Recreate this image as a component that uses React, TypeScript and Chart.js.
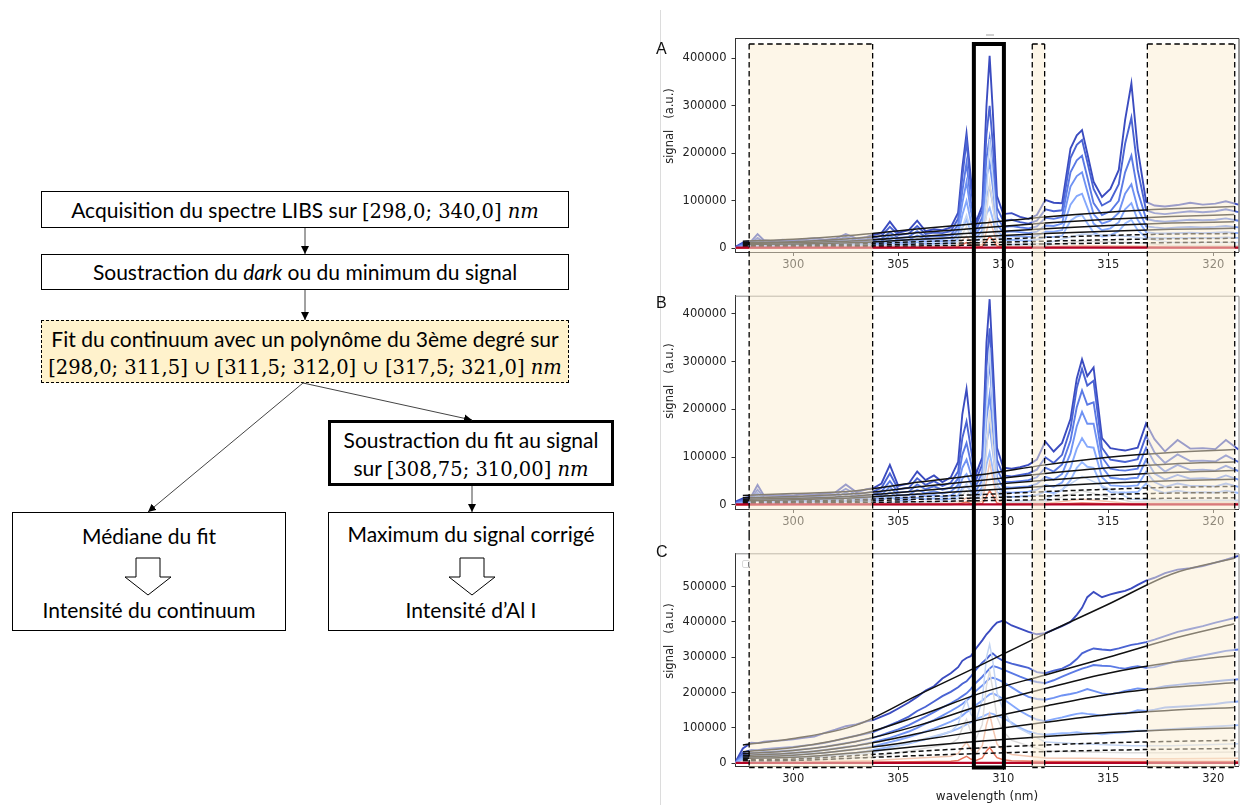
import React, { useEffect, useRef } from "react";
import { Chart, registerables } from "chart.js";

Chart.register(...registerables);

// ---------------- data (signal values in units of 1000 a.u.) ----------------
const WAVELENGTH = [
  297.25, 297.6, 298.0, 298.3, 298.6, 299.0, 299.5, 300.0, 300.5, 301.0,
  301.5, 302.0, 302.5, 303.0, 303.5, 303.8, 304.2, 304.6, 305.0, 305.5,
  305.9, 306.3, 306.7, 307.1, 307.5, 307.85, 308.05, 308.25, 308.45, 308.7,
  309.0, 309.2, 309.35, 309.5, 309.7, 310.0, 310.4, 310.8, 311.2, 311.6,
  312.0, 312.4, 312.8, 313.2, 313.5, 313.75, 314.0, 314.3, 314.7, 315.1,
  315.5, 315.8, 316.1, 316.4, 316.8, 317.2, 317.7, 318.3, 318.9, 319.5,
  320.1, 320.6, 321.2,
];
const PEAK_WAVELENGTH = [
  297.25, 300, 303.8, 307.5, 307.85, 308.05, 308.25, 308.45, 308.7, 309.0,
  309.2, 309.35, 309.5, 309.7, 310.0, 310.4, 312.0, 313.75, 316.1, 318.0, 321.2,
];
const FIT_WAVELENGTH = [297.6, 300, 303, 306, 309, 312, 315, 318, 321];
const BASE_WAVELENGTH = [297.25, 321.2];
const BASE_SIGNAL = [1.2, 1.2];

const X_TICKS = [300, 305, 310, 315, 320];
const X_TICK_LABELS = ["300", "305", "310", "315", "320"];
const Y_TICKS_AB = [0, 100, 200, 300, 400];
const Y_TICK_LABELS_AB = ["0", "100000", "200000", "300000", "400000"];
const Y_TICKS_C = [0, 100, 200, 300, 400, 500];
const Y_TICK_LABELS_C = ["0", "100000", "200000", "300000", "400000", "500000"];

const FIT_WINDOWS = [
  [297.9, 303.78],
  [311.38, 311.97],
  [316.86, 321.02],
];
const AL_WINDOW = [308.6, 310.03];

// Panel A
const A_SPEC_1 = [3, 12, 15, 30, 17, 15, 18, 16, 19, 21, 18, 20, 30, 21, 24, 28, 32, 56, 33, 38, 58, 36, 40, 38, 44, 75, 170, 242, 150, 55, 90, 300, 405, 290, 110, 72, 74, 66, 62, 70, 102, 96, 95, 210, 238, 249, 200, 140, 108, 125, 165, 270, 347, 210, 98, 90, 88, 91, 96, 92, 94, 99, 92];
const A_SPEC_2 = [2, 10, 12, 22, 13, 12, 14, 13, 15, 17, 15, 16, 24, 17, 19, 22, 26, 45, 28, 31, 47, 30, 33, 32, 36, 62, 150, 226, 130, 48, 80, 240, 300, 220, 85, 58, 60, 55, 52, 58, 82, 78, 80, 190, 218, 228, 182, 125, 90, 100, 135, 220, 275, 165, 80, 74, 72, 75, 78, 76, 78, 82, 76];
const A_SPEC_3 = [2, 8, 10, 17, 11, 10, 11, 11, 12, 13, 12, 13, 18, 14, 15, 17, 20, 34, 22, 24, 36, 24, 26, 26, 28, 50, 120, 180, 100, 38, 65, 190, 232, 170, 65, 45, 47, 44, 42, 46, 64, 62, 66, 160, 185, 195, 150, 95, 70, 78, 100, 160, 195, 120, 62, 58, 56, 58, 60, 59, 60, 63, 58];
const A_SPEC_4 = [1, 6, 8, 13, 9, 8, 9, 9, 10, 10, 10, 10, 14, 11, 12, 13, 15, 26, 17, 18, 27, 19, 20, 20, 22, 40, 95, 140, 80, 30, 50, 150, 180, 130, 50, 34, 36, 34, 32, 35, 48, 47, 52, 130, 152, 160, 120, 72, 52, 58, 75, 115, 135, 85, 46, 44, 42, 44, 45, 44, 45, 47, 44];
const A_SPEC_5 = [1, 4, 6, 9, 6, 6, 7, 7, 7, 8, 7, 8, 10, 8, 9, 10, 11, 18, 12, 13, 19, 14, 15, 15, 16, 30, 70, 100, 58, 22, 38, 108, 130, 95, 36, 25, 26, 25, 24, 26, 35, 35, 38, 92, 110, 115, 86, 52, 38, 42, 55, 82, 95, 60, 34, 32, 31, 32, 33, 32, 33, 34, 32];
const A_SPEC_6 = [0, 3, 4, 6, 4, 4, 5, 5, 5, 5, 5, 5, 7, 6, 6, 7, 8, 12, 8, 9, 13, 9, 10, 10, 11, 20, 44, 60, 36, 15, 26, 72, 85, 62, 24, 17, 18, 17, 16, 18, 24, 24, 26, 58, 67, 70, 53, 33, 25, 28, 36, 52, 60, 38, 23, 22, 21, 22, 22, 22, 22, 23, 22];
const A_PEAK_1 = [0, 3, 5, 7, 15, 45, 70, 40, 12, 25, 110, 230, 150, 40, 12, 8, 10, 30, 25, 12, 12];
const A_PEAK_2 = [0, 2, 3, 5, 10, 30, 45, 25, 8, 15, 70, 140, 90, 25, 8, 5, 6, 15, 12, 6, 6];
const A_PEAK_3 = [0, 1, 2, 3, 6, 18, 25, 14, 5, 8, 35, 60, 40, 12, 4, 3, 3, 6, 5, 3, 3];
const A_PEAK_4 = [0, 1, 1, 1, 3, 8, 12, 7, 2, 4, 15, 25, 18, 5, 2, 1, 1, 2, 2, 1, 1];
const A_FIT_1 = [15, 19, 28, 41, 53, 66, 76, 83, 88];
const A_FIT_2 = [12, 14, 21, 33, 43, 53, 61, 67, 71];
const A_FIT_3 = [10, 12, 16, 25, 33, 41, 48, 53, 56];
const A_FIT_4 = [8, 9, 12, 19, 25, 31, 36, 40, 42];
const A_FIT_5 = [6, 7, 9, 14, 18, 23, 27, 30, 31];
const A_FIT_6 = [4, 5, 6, 9, 12, 15, 18, 20, 21];
const A_FIT_7 = [2, 3, 4, 5, 7, 9, 11, 12, 13];

// Panel B
const B_SPEC_1 = [7, 14, 18, 42, 20, 19, 21, 20, 23, 22, 24, 26, 43, 27, 33, 35, 45, 84, 40, 45, 70, 52, 62, 48, 58, 90, 190, 243, 160, 65, 100, 340, 431, 300, 120, 78, 76, 79, 84, 95, 133, 112, 130, 180, 265, 305, 270, 288, 140, 119, 116, 114, 117, 120, 171, 138, 112, 136, 118, 119, 117, 136, 116];
const B_SPEC_2 = [5, 11, 14, 32, 16, 15, 17, 16, 18, 18, 19, 21, 34, 22, 26, 28, 36, 66, 33, 36, 56, 42, 50, 40, 47, 70, 140, 175, 120, 52, 85, 290, 370, 255, 95, 62, 60, 63, 66, 74, 100, 88, 105, 160, 245, 285, 250, 260, 120, 95, 92, 90, 93, 96, 145, 110, 88, 106, 92, 93, 91, 104, 90];
const B_SPEC_3 = [4, 9, 11, 25, 13, 12, 13, 13, 14, 14, 15, 16, 26, 17, 20, 22, 28, 50, 26, 28, 43, 33, 39, 32, 37, 55, 105, 130, 90, 40, 68, 235, 300, 205, 75, 49, 48, 50, 52, 58, 78, 70, 85, 135, 205, 240, 210, 215, 100, 76, 73, 72, 74, 76, 120, 88, 70, 84, 73, 74, 72, 82, 71];
const B_SPEC_4 = [3, 7, 8, 19, 10, 9, 10, 10, 11, 11, 11, 12, 19, 13, 15, 17, 21, 38, 20, 21, 32, 25, 29, 24, 28, 42, 78, 95, 66, 30, 52, 180, 230, 158, 57, 37, 36, 38, 39, 44, 59, 53, 65, 108, 165, 195, 170, 170, 80, 57, 55, 54, 56, 57, 95, 66, 53, 63, 55, 56, 54, 62, 53];
const B_SPEC_5 = [2, 5, 6, 14, 7, 7, 7, 7, 8, 8, 8, 9, 14, 9, 11, 12, 15, 27, 14, 15, 23, 18, 21, 17, 20, 30, 55, 65, 46, 21, 37, 128, 165, 113, 41, 27, 26, 27, 28, 32, 42, 38, 47, 78, 118, 140, 122, 120, 58, 41, 40, 39, 40, 41, 70, 48, 38, 45, 40, 40, 39, 45, 38];
const B_SPEC_6 = [1, 3, 4, 9, 5, 5, 5, 5, 5, 5, 5, 6, 9, 6, 7, 8, 10, 18, 9, 10, 15, 12, 14, 11, 13, 20, 35, 40, 30, 14, 24, 85, 110, 75, 27, 18, 17, 18, 19, 21, 28, 25, 31, 52, 78, 90, 80, 78, 38, 27, 26, 26, 27, 27, 45, 32, 25, 30, 26, 27, 26, 30, 25];
const B_PEAK_1 = [0, 3, 5, 7, 14, 30, 45, 25, 10, 30, 200, 330, 200, 45, 12, 8, 10, 60, 12, 10, 10];
const B_PEAK_2 = [0, 2, 3, 5, 8, 20, 30, 16, 6, 15, 110, 200, 120, 25, 7, 5, 6, 30, 7, 6, 6];
const B_PEAK_3 = [0, 1, 2, 3, 4, 10, 15, 8, 3, 8, 50, 90, 55, 12, 3, 2, 3, 12, 3, 3, 3];
const B_PEAK_4 = [0, 1, 1, 1, 2, 4, 6, 3, 1, 3, 18, 30, 20, 4, 1, 1, 1, 4, 1, 1, 1];
const B_FIT_1 = [20, 24, 30, 48, 64, 84, 100, 110, 116];
const B_FIT_2 = [15, 18, 24, 38, 52, 66, 78, 86, 90];
const B_FIT_3 = [12, 14, 19, 30, 41, 52, 61, 68, 72];
const B_FIT_4 = [9, 11, 15, 23, 31, 39, 46, 51, 54];
const B_FIT_5 = [7, 8, 11, 17, 22, 28, 33, 37, 39];
const B_FIT_6 = [5, 6, 8, 12, 15, 19, 22, 25, 26];
const B_FIT_7 = [3, 4, 5, 7, 9, 11, 13, 14, 15];

// Panel C
const C_SPEC_1 = [4, 42, 58, 57, 61, 63, 65, 68, 72, 76, 86, 95, 105, 110, 119, 122, 132, 142, 155, 172, 188, 206, 218, 240, 255, 272, 290, 298, 303, 325, 348, 365, 375, 386, 398, 404, 390, 381, 372, 365, 368, 378, 388, 400, 420, 440, 470, 485, 470, 478, 484, 488, 495, 505, 517, 525, 538, 548, 552, 558, 568, 576, 587];
const C_SPEC_2 = [3, 30, 38, 37, 40, 42, 44, 46, 50, 53, 58, 64, 72, 78, 84, 88, 98, 108, 118, 132, 148, 160, 175, 190, 202, 215, 225, 232, 245, 265, 285, 295, 305, 311, 300, 290, 282, 276, 270, 258, 255, 262, 268, 280, 295, 311, 318, 325, 322, 320, 325, 330, 335, 338, 343, 350, 360, 372, 380, 388, 398, 405, 414];
const C_SPEC_3 = [2, 24, 30, 30, 32, 33, 35, 37, 40, 43, 47, 52, 57, 62, 68, 72, 80, 88, 96, 108, 120, 132, 145, 158, 170, 182, 190, 198, 210, 228, 245, 258, 268, 275, 272, 265, 255, 245, 236, 230, 227, 235, 245, 255, 262, 268, 272, 278, 276, 275, 270, 268, 272, 275, 270, 272, 280, 290, 298, 305, 312, 318, 322];
const C_SPEC_4 = [2, 20, 25, 25, 26, 27, 28, 30, 32, 34, 38, 42, 46, 50, 56, 60, 66, 72, 80, 90, 100, 112, 122, 135, 148, 160, 168, 178, 188, 205, 220, 232, 240, 242, 238, 230, 215, 200, 188, 182, 180, 185, 192, 196, 200, 205, 210, 205, 198, 195, 200, 205, 208, 212, 210, 212, 218, 222, 226, 228, 232, 235, 238];
const C_SPEC_5 = [1, 16, 20, 20, 21, 22, 23, 24, 26, 28, 30, 33, 37, 40, 45, 48, 54, 60, 66, 74, 82, 90, 98, 108, 118, 128, 135, 145, 152, 165, 178, 188, 195, 198, 192, 182, 165, 148, 135, 124, 119, 125, 130, 136, 140, 142, 140, 138, 135, 138, 142, 140, 145, 150, 148, 152, 158, 160, 162, 165, 168, 172, 175];
const C_SPEC_6 = [1, 12, 15, 15, 16, 16, 17, 18, 19, 20, 22, 24, 27, 30, 34, 38, 42, 46, 50, 56, 62, 68, 75, 82, 90, 98, 104, 110, 116, 125, 132, 138, 142, 140, 135, 128, 115, 100, 90, 84, 81, 83, 85, 86, 88, 86, 85, 84, 82, 85, 86, 88, 90, 92, 92, 94, 96, 98, 100, 102, 104, 106, 108];
const C_PEAK_1 = [0, 10, 30, 90, 110, 150, 180, 140, 120, 180, 300, 337, 290, 200, 150, 110, 60, 55, 50, 50, 55];
const C_PEAK_2 = [0, 6, 18, 55, 70, 100, 125, 90, 70, 110, 220, 260, 210, 130, 90, 65, 35, 32, 30, 30, 32];
const C_PEAK_3 = [0, 3, 8, 20, 28, 45, 60, 40, 28, 50, 110, 140, 100, 55, 35, 25, 15, 14, 13, 13, 14];
const C_PEAK_4 = [0, 1, 3, 6, 8, 14, 20, 12, 8, 15, 35, 45, 32, 16, 10, 7, 5, 5, 5, 5, 5];
const C_FIT_1 = [52, 70, 108, 195, 280, 367, 450, 535, 580];
const C_FIT_2 = [33, 45, 78, 135, 200, 250, 300, 352, 395];
const C_FIT_3 = [27, 36, 62, 108, 165, 212, 255, 285, 305];
const C_FIT_4 = [22, 29, 50, 85, 125, 162, 195, 215, 228];
const C_FIT_5 = [18, 23, 40, 65, 92, 116, 138, 150, 158];
const C_FIT_6 = [14, 17, 30, 48, 63, 76, 87, 95, 100];
const C_FIT_7 = [10, 12, 22, 34, 44, 52, 58, 62, 65];
const C_FIT_8 = [7, 8, 15, 22, 28, 33, 37, 40, 42];

const SPECTRUM_COLORS = ["#3b4cc0", "#4a63d3", "#5b7ae5", "#6f92f3", "#85a8fc", "#9abbff"];
const PEAK_COLORS = ["#c3d5f4", "#dddcdc", "#f3c7b1", "#e8765c"];
const FIT_COLOR = "#111111";
const BASE_COLOR = "#b40426";

// ---------------- chart helpers ----------------
const TICK_FONT = { family: "'DejaVu Sans', sans-serif", size: 11.5 };

function series(xs: number[], ys: number[]) {
  return xs.map((x, i) => ({ x, y: ys[i] }));
}

type Panel = {
  spectra: number[][];
  peaks: number[][];
  fits: number[][];
  dashedFits: number;
  yMin: number;
  yMax: number;
  yTicks: number[];
  yTickLabels: string[];
  height: number;
  padTop: number;
  xAxisHeight: number;
  overlayTop: number;
  overlayBottom: number;
  topEdge: boolean;
  bottomEdge: boolean;
  frameColor: string;
  xTitle?: string;
};

const PANEL_A: Panel = {
  spectra: [A_SPEC_1, A_SPEC_2, A_SPEC_3, A_SPEC_4, A_SPEC_5, A_SPEC_6],
  peaks: [A_PEAK_1, A_PEAK_2, A_PEAK_3, A_PEAK_4],
  fits: [A_FIT_1, A_FIT_2, A_FIT_3, A_FIT_4, A_FIT_5, A_FIT_6, A_FIT_7],
  dashedFits: 3,
  yMin: -7.8,
  yMax: 442.7,
  yTicks: Y_TICKS_AB,
  yTickLabels: Y_TICK_LABELS_AB,
  height: 278,
  padTop: 38,
  xAxisHeight: 26,
  overlayTop: 44,
  overlayBottom: 278,
  topEdge: true,
  bottomEdge: false,
  frameColor: "#333",
};
const PANEL_B: Panel = {
  spectra: [B_SPEC_1, B_SPEC_2, B_SPEC_3, B_SPEC_4, B_SPEC_5, B_SPEC_6],
  peaks: [B_PEAK_1, B_PEAK_2, B_PEAK_3, B_PEAK_4],
  fits: [B_FIT_1, B_FIT_2, B_FIT_3, B_FIT_4, B_FIT_5, B_FIT_6, B_FIT_7],
  dashedFits: 3,
  yMin: -8.4,
  yMax: 438.3,
  yTicks: Y_TICKS_AB,
  yTickLabels: Y_TICK_LABELS_AB,
  height: 257,
  padTop: 17.7,
  xAxisHeight: 26,
  overlayTop: 0,
  overlayBottom: 257,
  topEdge: false,
  bottomEdge: false,
  frameColor: "#888",
};
const PANEL_C: Panel = {
  spectra: [C_SPEC_1, C_SPEC_2, C_SPEC_3, C_SPEC_4, C_SPEC_5, C_SPEC_6],
  peaks: [C_PEAK_1, C_PEAK_2, C_PEAK_3, C_PEAK_4],
  fits: [C_FIT_1, C_FIT_2, C_FIT_3, C_FIT_4, C_FIT_5, C_FIT_6, C_FIT_7, C_FIT_8],
  dashedFits: 2,
  yMin: -7.6,
  yMax: 594.2,
  yTicks: Y_TICKS_C,
  yTickLabels: Y_TICK_LABELS_C,
  height: 270,
  padTop: 18.3,
  xAxisHeight: 39,
  overlayTop: 0,
  overlayBottom: 232.5,
  topEdge: false,
  bottomEdge: true,
  frameColor: "#888",
  xTitle: "wavelength (nm)",
};

function buildConfig(p: Panel): any {
  const ds: any[] = [];
  p.spectra.forEach((s, i) =>
    ds.push({ data: series(WAVELENGTH, s), borderColor: SPECTRUM_COLORS[i], borderWidth: 1.9 })
  );
  p.peaks.forEach((s, i) =>
    ds.push({ data: series(PEAK_WAVELENGTH, s), borderColor: PEAK_COLORS[i], borderWidth: 1.5 })
  );
  p.fits.forEach((s, i) =>
    ds.push({
      data: series(FIT_WAVELENGTH, s),
      borderColor: FIT_COLOR,
      borderWidth: 1.5,
      borderDash: i >= p.fits.length - p.dashedFits ? [5, 3] : [],
      cubicInterpolationMode: "monotone",
    })
  );
  ds.push({ data: series(BASE_WAVELENGTH, BASE_SIGNAL), borderColor: BASE_COLOR, borderWidth: 2.2 });
  ds.forEach((d, i) => {
    d.order = ds.length - i;
    d.pointRadius = 0;
    d.fill = false;
  });

  const framePlugin = {
    id: "frame",
    afterDatasetsDraw(chart: any) {
      const { ctx, chartArea: a } = chart;
      ctx.save();
      ctx.strokeStyle = p.frameColor;
      ctx.lineWidth = 1;
      ctx.beginPath();
      ctx.moveTo(a.left, a.top + 0.5);
      ctx.lineTo(a.right + 0.5, a.top + 0.5);
      ctx.lineTo(a.right + 0.5, a.bottom);
      ctx.stroke();
      ctx.restore();
    },
  };

  const overlayPlugin = {
    id: "windows",
    afterDraw(chart: any) {
      const { ctx } = chart;
      const xs = chart.scales.x;
      const t = p.overlayTop;
      const b = p.overlayBottom;
      ctx.save();
      FIT_WINDOWS.forEach(([w0, w1]) => {
        const x0 = xs.getPixelForValue(w0);
        const x1 = xs.getPixelForValue(w1);
        ctx.fillStyle = "rgba(251, 237, 209, 0.5)";
        ctx.fillRect(x0, t, x1 - x0, b - t);
        ctx.setLineDash([5.5, 3.5]);
        ctx.lineWidth = 1.3;
        ctx.strokeStyle = "#000";
        ctx.beginPath();
        ctx.moveTo(x0, t);
        ctx.lineTo(x0, b);
        ctx.moveTo(x1, t);
        ctx.lineTo(x1, b);
        if (p.topEdge) {
          ctx.moveTo(x0, t);
          ctx.lineTo(x1, t);
        }
        if (p.bottomEdge) {
          ctx.moveTo(x0, b);
          ctx.lineTo(x1, b);
        }
        ctx.stroke();
      });
      const a0 = xs.getPixelForValue(AL_WINDOW[0]);
      const a1 = xs.getPixelForValue(AL_WINDOW[1]);
      ctx.setLineDash([]);
      ctx.lineWidth = 4;
      ctx.strokeStyle = "#000";
      ctx.beginPath();
      ctx.moveTo(a0, p.topEdge ? t - 2 : t);
      ctx.lineTo(a0, p.bottomEdge ? b + 2 : b);
      ctx.moveTo(a1, p.topEdge ? t - 2 : t);
      ctx.lineTo(a1, p.bottomEdge ? b + 2 : b);
      if (p.topEdge) {
        ctx.moveTo(a0 - 2, t);
        ctx.lineTo(a1 + 2, t);
      }
      if (p.bottomEdge) {
        ctx.moveTo(a0 - 2, b);
        ctx.lineTo(a1 + 2, b);
      }
      ctx.stroke();
      ctx.restore();
    },
  };

  return {
    type: "line",
    data: { datasets: ds },
    options: {
      animation: false,
      responsive: false,
      maintainAspectRatio: false,
      events: [],
      layout: { padding: { top: p.padTop, right: 5.5, bottom: 0, left: 0 } },
      plugins: { legend: { display: false }, tooltip: { enabled: false } },
      scales: {
        x: {
          type: "linear",
          min: 297.25,
          max: 321.2,
          afterBuildTicks: (s: any) => {
            s.ticks = X_TICKS.map((v) => ({ value: v }));
          },
          afterFit: (s: any) => {
            s.height = p.xAxisHeight;
          },
          grid: { display: true, drawOnChartArea: false, drawTicks: true, tickLength: 4, color: "#333" },
          border: { display: true, color: "#333", width: 1 },
          ticks: {
            padding: 2,
            color: "#222",
            font: TICK_FONT,
            maxRotation: 0,
            autoSkip: false,
            callback: (_v: any, i: number) => X_TICK_LABELS[i],
          },
          title: p.xTitle
            ? {
                display: true,
                text: p.xTitle,
                color: "#222",
                font: { family: "'DejaVu Sans', sans-serif", size: 12 },
                padding: { top: 0, bottom: 1 },
              }
            : { display: false },
        },
        y: {
          type: "linear",
          min: p.yMin,
          max: p.yMax,
          afterBuildTicks: (s: any) => {
            s.ticks = p.yTicks.map((v) => ({ value: v }));
          },
          afterFit: (s: any) => {
            s.width = 95.5;
          },
          grid: { display: true, drawOnChartArea: false, drawTicks: true, tickLength: 4, color: "#333" },
          border: { display: true, color: "#333", width: 1 },
          ticks: {
            padding: 5,
            color: "#222",
            font: TICK_FONT,
            autoSkip: false,
            callback: (_v: any, i: number) => p.yTickLabels[i],
          },
        },
      },
    },
    plugins: [framePlugin, overlayPlugin],
  };
}

function SpectrumPanel({ panel, top }: { panel: Panel; top: number }) {
  const ref = useRef<HTMLCanvasElement | null>(null);
  useEffect(() => {
    if (!ref.current) return;
    const chart = new Chart(ref.current, buildConfig(panel));
    return () => chart.destroy();
  }, [panel]);
  return (
    <canvas
      ref={ref}
      width={604}
      height={panel.height}
      style={{ position: "absolute", left: 640, top, width: 604, height: panel.height }}
    />
  );
}

// ---------------- flowchart ----------------
const FLOW_FONT = "Lato, 'Open Sans', sans-serif";
const MATH_FONT = "'DejaVu Serif', 'Liberation Serif', serif";
const FLOW_SIZE = 21;
const MATH_SIZE = 19.5;

function Math({ children }: { children: React.ReactNode }) {
  return <span style={{ fontFamily: MATH_FONT, fontSize: MATH_SIZE }}>{children}</span>;
}
function NM() {
  return <i style={{ fontFamily: MATH_FONT }}>nm</i>;
}

function Box({ left, top, width, height, border, bg }: any) {
  return (
    <div
      style={{
        position: "absolute",
        left,
        top,
        width,
        height,
        boxSizing: "border-box",
        border,
        background: bg || "#fff",
      }}
    />
  );
}

function Line({ left, width, cy, children }: any) {
  return (
    <div
      style={{
        position: "absolute",
        left,
        width,
        top: cy - 14,
        height: 28,
        lineHeight: "28px",
        textAlign: "center",
        fontFamily: FLOW_FONT,
        fontSize: FLOW_SIZE,
        color: "#000",
        whiteSpace: "nowrap",
      }}
    >
      {children}
    </div>
  );
}

function hollowArrow(cx: number) {
  const pts = [
    [cx - 12, 558],
    [cx + 12, 558],
    [cx + 12, 577],
    [cx + 23, 577],
    [cx, 595],
    [cx - 23, 577],
    [cx - 12, 577],
  ];
  return pts.map((q) => q.join(",")).join(" ");
}

function Flowchart() {
  return (
    <>
      <Box left={41} top={191} width={528} height={37} border="1px solid #000" />
      <Box left={41} top={254} width={528} height={36} border="1px solid #000" />
      <Box left={41} top={320} width={528} height={63} border="1px dashed #000" bg="#fff2cc" />
      <Box left={328} top={420} width={286} height={66} border="3px solid #000" />
      <Box left={12} top={512} width={274} height={119} border="1px solid #000" />
      <Box left={328} top={512} width={286} height={119} border="1px solid #000" />

      <svg width={640} height={805} style={{ position: "absolute", left: 0, top: 0 }}>
        <defs>
          <marker id="ah" markerWidth="8" markerHeight="8" refX="8" refY="4" orient="auto" markerUnits="userSpaceOnUse">
            <path d="M0,0 L8,4 L0,8 z" fill="#000" />
          </marker>
        </defs>
        <g stroke="#444" strokeWidth={1} fill="none">
          <line x1={305} y1={228} x2={305} y2={254} markerEnd="url(#ah)" />
          <line x1={305} y1={290} x2={305} y2={320} markerEnd="url(#ah)" />
          <line x1={303} y1={383} x2={148} y2={512} markerEnd="url(#ah)" />
          <line x1={303} y1={383} x2={472} y2={420} markerEnd="url(#ah)" />
          <line x1={472} y1={486} x2={472} y2={512} markerEnd="url(#ah)" />
        </g>
        <polygon points={hollowArrow(148)} fill="#fff" stroke="#000" strokeWidth={1} />
        <polygon points={hollowArrow(472)} fill="#fff" stroke="#000" strokeWidth={1} />
      </svg>

      <Line left={41} width={528} cy={210}>
        Acquisition du spectre LIBS sur{" "}
        <Math>
          [298,0; 340,0] <NM />
        </Math>
      </Line>
      <Line left={41} width={528} cy={272}>
        Soustraction du <i>dark</i> ou du minimum du signal
      </Line>
      <Line left={41} width={528} cy={339}>
        Fit du continuum avec un polynôme du 3ème degré sur
      </Line>
      <Line left={41} width={528} cy={366}>
        <Math>
          [298,0; 311,5] ∪ [311,5; 312,0] ∪ [317,5; 321,0] <NM />
        </Math>
      </Line>
      <Line left={328} width={286} cy={440}>
        Soustraction du fit au signal
      </Line>
      <Line left={328} width={286} cy={468}>
        sur{" "}
        <Math>
          [308,75; 310,00] <NM />
        </Math>
      </Line>
      <Line left={12} width={274} cy={536}>
        Médiane du fit
      </Line>
      <Line left={12} width={274} cy={610}>
        Intensité du continuum
      </Line>
      <Line left={328} width={286} cy={534}>
        Maximum du signal corrigé
      </Line>
      <Line left={328} width={286} cy={610}>
        Intensité d’Al I
      </Line>
    </>
  );
}

function YLabel({ cy }: { cy: number }) {
  return (
    <div
      style={{
        position: "absolute",
        left: 669 - 60,
        top: cy - 8,
        width: 120,
        height: 16,
        lineHeight: "16px",
        textAlign: "center",
        transform: "rotate(-90deg)",
        transformOrigin: "60px 8px",
        fontFamily: "'DejaVu Sans', sans-serif",
        fontSize: 11.5,
        color: "#222",
        whiteSpace: "pre",
      }}
    >
      {"signal   (a.u.)"}
    </div>
  );
}

function PanelLetter({ text, cy }: { text: string; cy: number }) {
  return (
    <div
      style={{
        position: "absolute",
        left: 656,
        top: cy - 10,
        height: 20,
        lineHeight: "20px",
        fontFamily: "'Liberation Sans', Arial, sans-serif",
        fontSize: 16,
        color: "#111",
      }}
    >
      {text}
    </div>
  );
}

export default function App() {
  return (
    <div
      style={{
        position: "absolute",
        left: 0,
        top: 0,
        width: 1244,
        height: 805,
        background: "#fff",
        overflow: "hidden",
      }}
    >
      <Flowchart />
      <div style={{ position: "absolute", left: 660, top: 10, width: 1, height: 795, background: "#dcdcdc" }} />
      <div style={{ position: "absolute", left: 986, top: 34, width: 8, height: 2, background: "#d0d0d0" }} />
      <SpectrumPanel panel={PANEL_A} top={0} />
      <SpectrumPanel panel={PANEL_B} top={278} />
      <SpectrumPanel panel={PANEL_C} top={535} />
      <div
        style={{
          position: "absolute",
          left: 742,
          top: 560,
          width: 8,
          height: 8,
          border: "1px solid #d8d8d8",
          borderRadius: 2,
          boxSizing: "border-box",
        }}
      />
      <PanelLetter text="A" cy={49} />
      <PanelLetter text="B" cy={303} />
      <PanelLetter text="C" cy={552} />
      <YLabel cy={126} />
      <YLabel cy={381} />
      <YLabel cy={641} />
    </div>
  );
}
